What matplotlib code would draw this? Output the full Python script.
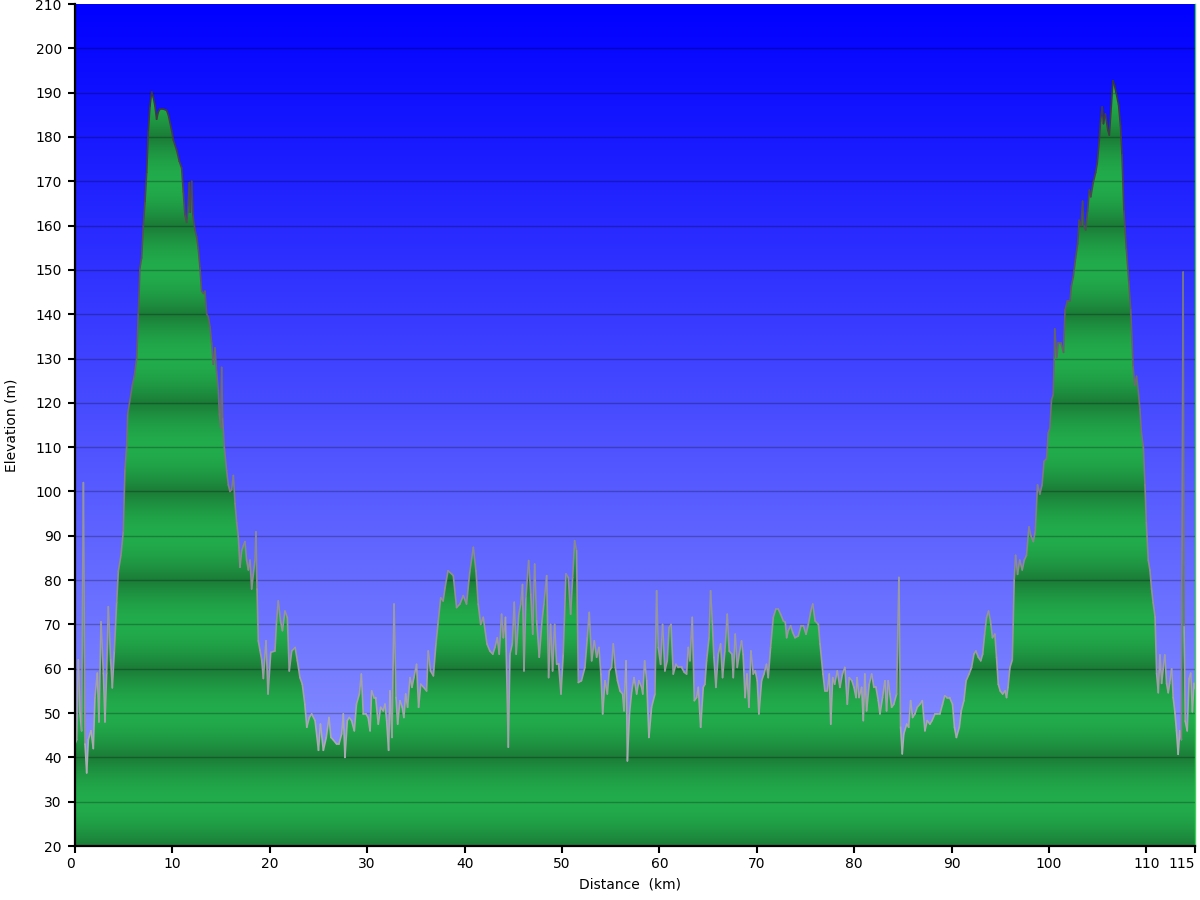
import numpy as np
import matplotlib
matplotlib.use("Agg")
import matplotlib.pyplot as plt
from matplotlib.collections import LineCollection
from matplotlib.patches import Polygon

# ---------------- data ----------------
distance_km = [
    0.0, 0.17, 0.34, 0.51, 0.68, 0.86, 1.03, 1.2, 1.37, 1.64, 1.88, 2.05, 2.29, 2.46, 2.67, 2.91,
    3.08, 3.25, 3.42, 3.66, 3.83, 4.04, 4.28, 4.45, 4.72, 4.96, 5.13, 5.3, 5.41, 5.65, 5.89, 6.09,
    6.33, 6.5, 6.67, 6.84, 7.02, 7.19, 7.36, 7.53, 7.7, 7.87, 8.04, 8.21, 8.38, 8.56, 8.73, 9.07,
    9.41, 9.58, 9.92, 10.1, 10.44, 10.71, 10.95, 11.12, 11.29, 11.46, 11.57, 11.74, 11.84, 11.98,
    12.11, 12.32, 12.49, 12.66, 12.83, 13.0, 13.18, 13.35, 13.52, 13.69, 13.86, 14.03, 14.2, 14.37,
    14.54, 14.72, 14.82, 14.96, 15.06, 15.16, 15.33, 15.57, 15.74, 15.91, 16.08, 16.26, 16.43,
    16.6, 16.77, 16.94, 17.11, 17.28, 17.45, 17.62, 17.8, 17.97, 18.14, 18.31, 18.48, 18.58, 18.69,
    18.82, 18.99, 19.17, 19.34,
    19.61, 19.82, 20.1, 20.53, 20.7, 20.87, 21.1, 21.3, 21.56, 21.8, 22.0, 22.25, 22.6, 22.83,
    23.1, 23.34, 23.6, 23.8, 24.06, 24.3, 24.65, 25.0, 25.2, 25.5, 25.8, 26.08, 26.28, 26.5, 26.86,
    27.1, 27.38, 27.55, 27.72, 27.96, 28.16, 28.4, 28.68, 28.9, 29.2, 29.4, 29.6, 29.87, 30.1,
    30.3, 30.46, 30.7, 30.87, 31.14, 31.38, 31.65, 31.83, 32.0, 32.2, 32.34, 32.55, 32.76, 32.96,
    33.13, 33.37, 33.6, 33.77, 33.95, 34.15, 34.4, 34.6, 34.8, 35.07, 35.28, 35.5, 35.8, 36.1,
    36.27, 36.5, 36.8, 37.06, 37.3, 37.55, 37.8, 38.0, 38.3, 38.67,
    38.84, 39.18, 39.52, 39.87, 40.2, 40.55, 40.9, 41.17, 41.4, 41.65, 41.92, 42.3, 42.6, 42.9,
    43.12, 43.36, 43.56, 43.8, 43.98, 44.2, 44.49, 44.66, 44.9, 45.1, 45.3, 45.57, 45.77, 45.95,
    46.1, 46.3, 46.58, 46.8, 47.0, 47.2, 47.4, 47.67, 47.95, 48.15, 48.43, 48.63, 48.83, 49.04,
    49.25, 49.45, 49.66, 49.9, 50.13, 50.41, 50.65, 50.89, 51.1, 51.3, 51.5, 51.68, 52.0, 52.36,
    52.6, 52.8, 53.05, 53.32, 53.56, 53.8, 54.0, 54.18, 54.42, 54.66, 54.86, 55.1, 55.27, 55.48,
    55.7, 55.96, 56.23, 56.37, 56.58, 56.72, 56.93, 57.17, 57.4, 57.67, 57.9,
    58.18, 58.3, 58.49, 58.7, 58.93, 59.2, 59.55, 59.72, 59.89, 60.13, 60.33, 60.57, 60.81, 61.0,
    61.2, 61.43, 61.7, 61.94, 62.28, 62.56, 62.8, 62.97, 63.14, 63.38, 63.59, 63.83, 64.0, 64.24,
    64.51, 64.68, 64.85, 65.1, 65.26, 65.43, 65.6, 65.81, 66.05, 66.29, 66.49, 66.73, 66.97, 67.17,
    67.45, 67.59, 67.79, 68.0, 68.2, 68.44, 68.6, 68.8, 69.0, 69.2, 69.4, 69.64, 69.85, 70.05,
    70.22, 70.5, 70.74, 71.0, 71.18, 71.42, 71.7, 71.97, 72.2, 72.45, 72.73, 72.93, 73.07, 73.24,
    73.48, 73.69, 73.93, 74.27, 74.55, 74.79, 75.06, 75.3, 75.55, 75.75, 75.99, 76.33, 76.5, 76.8,
    77.0, 77.25, 77.45, 77.6, 77.8,
    78.0, 78.27, 78.54, 78.8, 79.05, 79.3, 79.5, 79.77, 79.98, 80.2, 80.3, 80.5, 80.77, 80.94,
    81.1, 81.28, 81.55, 81.8, 82.03, 82.24, 82.48, 82.65, 82.92, 83.16, 83.33, 83.5, 83.67, 83.85,
    84.08, 84.36, 84.6, 84.77, 84.94, 85.1, 85.4, 85.6, 85.8, 86.0, 86.24, 86.48, 86.76, 87.0,
    87.27, 87.5, 87.78, 88.0, 88.3, 88.52, 88.8, 89.08, 89.3, 89.55, 89.8, 90.1, 90.3, 90.5, 90.8,
    91.0, 91.27, 91.5, 91.8, 92.06, 92.3, 92.5, 92.75, 93.0, 93.2, 93.4, 93.6, 93.8, 94.0, 94.2,
    94.45, 94.62, 94.8, 95.0, 95.25, 95.5, 95.65, 95.8, 96.0, 96.24,
    96.44, 96.58, 96.78, 97.0, 97.26, 97.47, 97.7, 97.95, 98.15, 98.4, 98.6, 98.83, 99.07, 99.3,
    99.5, 99.76, 99.93, 100.1, 100.27, 100.44, 100.55, 100.6, 100.8, 100.97, 101.23, 101.5,
    101.66, 101.9, 102.17, 102.3, 102.5, 102.74, 102.95, 103.1, 103.3, 103.46, 103.6, 103.77,
    103.97, 104.15, 104.3, 104.55, 104.8, 104.96, 105.17, 105.3, 105.47, 105.6, 105.8, 106.05,
    106.2, 106.4, 106.57, 106.74, 106.9, 107.15, 107.35, 107.5, 107.7, 107.95, 108.2, 108.4,
    108.65, 108.8, 109.0, 109.17, 109.34, 109.5, 109.7, 109.86, 110.0, 110.2, 110.37, 110.54,
    110.7, 110.9, 111.06, 111.23, 111.4, 111.57, 111.74, 111.9, 112.08, 112.25, 112.4, 112.6,
    112.76, 112.93, 113.1, 113.27, 113.44, 113.6, 113.78, 113.88, 114.0, 114.2, 114.4, 114.56,
    114.73, 114.9, 115.0,
]

elevation_m = [
    43, 44, 62, 50, 46, 102, 43, 36.5, 44, 46, 42, 53.5, 59, 48, 70.6, 59,
    48, 59, 74, 62, 55.7, 64, 75, 82, 85.6, 91, 105, 110, 117.5, 120.7, 124, 126,
    130, 140, 150.5, 152.7, 160, 165.5, 172, 181.5, 187, 190.2, 189, 187, 184, 185.7, 186.3, 186.3,
    186, 185, 181.5, 179.3, 177, 174.5, 173, 167.6, 162.3, 160.7, 163, 169.7, 163, 170,
    162.3, 159, 157.5, 154.8, 150.5, 145.2, 144.7, 145.2, 140, 139.4, 137.2, 133.5, 128.7, 132.4,
    127, 122.8, 117.5, 114.3, 128, 116.4, 110, 104.7, 101.5, 100, 100.4, 103.6, 97.3,
    93, 89.8, 82.9, 86.6, 87.7, 88.7, 84.5, 82.3, 84.5, 78, 81.3, 84.5, 90.9, 78,
    66.3, 64.2, 62, 57.8,
    66.3, 54.3, 63.7, 64, 70.8, 75.3, 70.8, 68.6, 73, 71.6, 59.5, 64, 64.8, 61.8,
    58, 56.5, 52, 46.8, 49, 49.8, 48.3, 41.6, 47.5, 41.6, 44.5, 49, 44.5, 44, 43,
    43, 45.3, 49.8, 40, 48.3, 49, 48.3, 46, 52, 54.3, 58.8, 49.8, 49.8, 49,
    46, 55, 53.5, 53.5, 47.5, 51.3, 50.5, 52, 48.3, 41.6, 55, 44.5, 74.6, 53.5,
    47.5, 52.8, 51.3, 49, 54.3, 51.3, 58, 55.8, 58, 61, 51.3, 56.5, 55.8, 55,
    64, 59.5, 58.4, 65.6, 70.8, 76, 75.3, 78.3, 82.1, 81.4,
    81, 73.8, 74.6, 76.5, 74.6, 82.1, 87.4, 82.1, 74.6, 70, 71.6, 65.6, 64, 63.3,
    64.8, 67, 63.3, 72.3, 67, 71.6, 42.3, 63.3, 65.6, 75, 63.3, 72.3, 74.6, 79,
    59.5, 76, 84.4, 76.8, 67.8, 83.6, 70.8, 62.6, 70.8, 74.6, 81, 58, 70, 59.5,
    70, 61, 61, 54.3, 63.3, 81.4, 80.6, 72.3, 80.6, 88.9, 86.6, 56.9, 57.3, 60.3,
    67, 72.7, 61.8, 66.3, 62.6, 64.8, 58.8, 49.8, 57.3, 54.3, 59.5, 60.3, 65.6, 60.3,
    57.3, 55, 54.3, 50.5, 61.8, 39.2, 49.8, 55, 58, 54.3, 57.3,
    55.8, 54.3, 61.8, 57.3, 44.5, 51.3, 54.3, 77.6, 64.8, 61, 70, 59.5, 61.8, 69.3,
    70, 58.8, 61, 60.3, 60.3, 59.2, 58.8, 64.8, 61.8, 71.6, 52.8, 53.5, 55.8, 46.8,
    55.8, 56.5, 61.8, 67, 77.6, 70.8, 62.6, 55.8, 63.3, 65.6, 58, 64, 72.3, 64,
    63.3, 58, 67.8, 60.3, 63.3, 66.3, 63.3, 53.5, 58.8, 51.3, 64, 58.8, 59.5, 57.3,
    49.8, 57.3, 58.8, 61, 58, 64.8, 71.6, 73.5, 73.5, 72.3, 70.8, 70.5, 67, 68.6,
    69.7, 68.2, 67, 67.4, 69.7, 69.7, 67.8, 70, 73, 74.6, 70.8, 70, 65.6, 58.8,
    55, 55, 58.8, 47.5, 58,
    56.5, 59.5, 55.8, 58.8, 60.3, 52, 58, 57.3, 55.8, 53.5, 58, 53.5, 55.8, 48.3,
    58.8, 50.5, 56.5, 58.8, 55.8, 55.8, 52.8, 49.8, 53.5, 57.3, 50.5, 57.3, 54.3, 51.3,
    52, 54.3, 80.6, 46.8, 40.8, 45.3, 47.5, 46.8, 52.8, 49, 49.8, 51.3, 52, 52.8,
    46, 48.3, 47.5, 48.3, 49.8, 49.8, 49.8, 52, 53.9, 53.5, 53.5, 52, 46.8, 44.5, 46.8,
    50.5, 52.8, 57.3, 58.8, 60.3, 63.3, 64, 62.6, 61.8, 63.3, 67.8, 71.6, 73, 70.8, 67,
    67.8, 62.6, 56.5, 55, 54.3, 55, 53.5, 55.8, 60.3, 62,
    80.2, 85.6, 81.3, 84.5, 82.3, 84.5, 85.6, 92, 90, 88.7, 91, 101.5, 99.4, 101.5,
    106.8, 107.4, 113.2, 114.3, 120.7, 121.8, 130.3, 136.7, 130.3, 133.5, 133.5, 131.4,
    141, 143, 143, 146.3, 148.4, 152.7, 155.9, 161.2, 160, 165.5, 160, 159,
    163.3, 168, 166.5, 169.7, 172, 174, 179.3, 183.6, 186.8, 183, 185.2, 181.5,
    180.4, 186.8, 192.7, 191.6, 190, 187.3, 182.5, 176, 163.3, 154.8, 147.4, 141,
    128.2, 124, 126, 122.8, 118.6, 113.2, 110, 101.5, 93, 84.5, 82.3, 78,
    74.9, 71.7, 58.9, 54.6, 63.1, 56.7, 60, 63.1, 56.7, 54.6, 56.7, 60,
    53.5, 50.3, 46, 40.7, 46, 44, 149.5, 69.5, 48.2, 46, 57.8, 59,
    50.3, 56.7, 55.5,
]

x_ticks = [0, 10, 20, 30, 40, 50, 60, 70, 80, 90, 100, 110, 115]
x_tick_labels = ["0", "10", "20", "30", "40", "50", "60", "70", "80", "90", "100", "110", "115"]
y_ticks = list(range(20, 211, 10))
y_tick_labels = [str(v) for v in y_ticks]

X_MIN, X_MAX = 0, 115
Y_MIN, Y_MAX = 20, 210

# ---------------- figure ----------------
plt.rcParams["font.family"] = ["DejaVu Sans"]
fig = plt.figure(figsize=(12, 9), dpi=100)
fig.patch.set_facecolor("white")
ax = fig.add_axes([75 / 1200, 54 / 900, 1120 / 1200, 842 / 900])
ax.set_xlim(X_MIN, X_MAX)
ax.set_ylim(Y_MIN, Y_MAX)

# blue sky gradient background
n = 600
t = np.linspace(0, 1, n)[:, None]          # 0 = bottom, 1 = top
top_c = np.array([0, 0, 255]) / 255.0
bot_c = np.array([150, 158, 255]) / 255.0
bg = bot_c * (1 - t) + top_c * t
ax.imshow(bg[:, None, :], extent=[X_MIN, X_MAX, Y_MIN, Y_MAX], origin="lower",
          aspect="auto", interpolation="bilinear", zorder=0)

# banded green fill (light at 30,50,70..., dark at 20,40,60...)
e = np.linspace(Y_MIN, Y_MAX, 3801)
w = (1 + np.cos(np.pi * (e - 30) / 10.0)) / 2.0
w = w ** 0.5
light = np.array([34, 172, 76]) / 255.0
dark = np.array([27, 124, 55]) / 255.0
green = dark[None, :] + (light - dark)[None, :] * w[:, None]
gim = ax.imshow(green[:, None, :], extent=[X_MIN, X_MAX, Y_MIN, Y_MAX], origin="lower",
                aspect="auto", interpolation="bilinear", zorder=1)

verts = [(distance_km[0], Y_MIN)] + list(zip(distance_km, elevation_m)) + [(distance_km[-1], Y_MIN)]
poly = Polygon(verts, closed=True, facecolor="none", edgecolor="none", transform=ax.transData)
ax.add_patch(poly)
gim.set_clip_path(poly)

# grid lines
for yv in y_ticks[1:-1]:
    ax.axhline(yv, color="black", alpha=0.25, lw=1.0, zorder=3)

# outline: gray that gets darker with height
xs = np.asarray(distance_km, float)
ys = np.asarray(elevation_m, float)
segs = np.stack([np.column_stack([xs[:-1], ys[:-1]]), np.column_stack([xs[1:], ys[1:]])], axis=1)
mid = (ys[:-1] + ys[1:]) / 2.0
g = 0.74 - 0.58 * (mid - Y_MIN) / (Y_MAX - Y_MIN)
cols = np.column_stack([g, g, g * 1.02 + 0.02])
cols = np.clip(cols, 0, 1)
lc = LineCollection(segs, colors=cols, linewidths=1.2, zorder=4, capstyle="round", joinstyle="round")
ax.add_collection(lc)

# spines
ax.spines["top"].set_visible(False)
ax.spines["right"].set_color("#3ed05a")
ax.spines["right"].set_linewidth(1.0)
ax.spines["left"].set_linewidth(1.6)
ax.spines["bottom"].set_linewidth(1.6)
ax.spines["left"].set_zorder(6)
ax.spines["bottom"].set_zorder(6)

ax.set_xticks(x_ticks)
ax.set_xticklabels(x_tick_labels)
ax.set_yticks(y_ticks)
ax.set_yticklabels(y_tick_labels)
ax.tick_params(axis="both", direction="out", length=5, width=1.5, labelsize=10, colors="black")
ax.tick_params(axis="y", pad=4.5)
ax.tick_params(axis="x", pad=3)
xl = ax.get_xticklabels()
xl[0].set_horizontalalignment("right")
xl[-1].set_horizontalalignment("right")

ax.set_xlabel("Distance  (km)", fontsize=10)
ax.xaxis.set_label_coords((630 - 75) / 1120, (900 - 878 - 54) / 842)
ax.set_ylabel("Elevation (m)", fontsize=10)
ax.yaxis.set_label_coords((19 - 75) / 1120, (900 - 425 - 54) / 842)

fig.savefig("out.png", dpi=100, facecolor="white")
